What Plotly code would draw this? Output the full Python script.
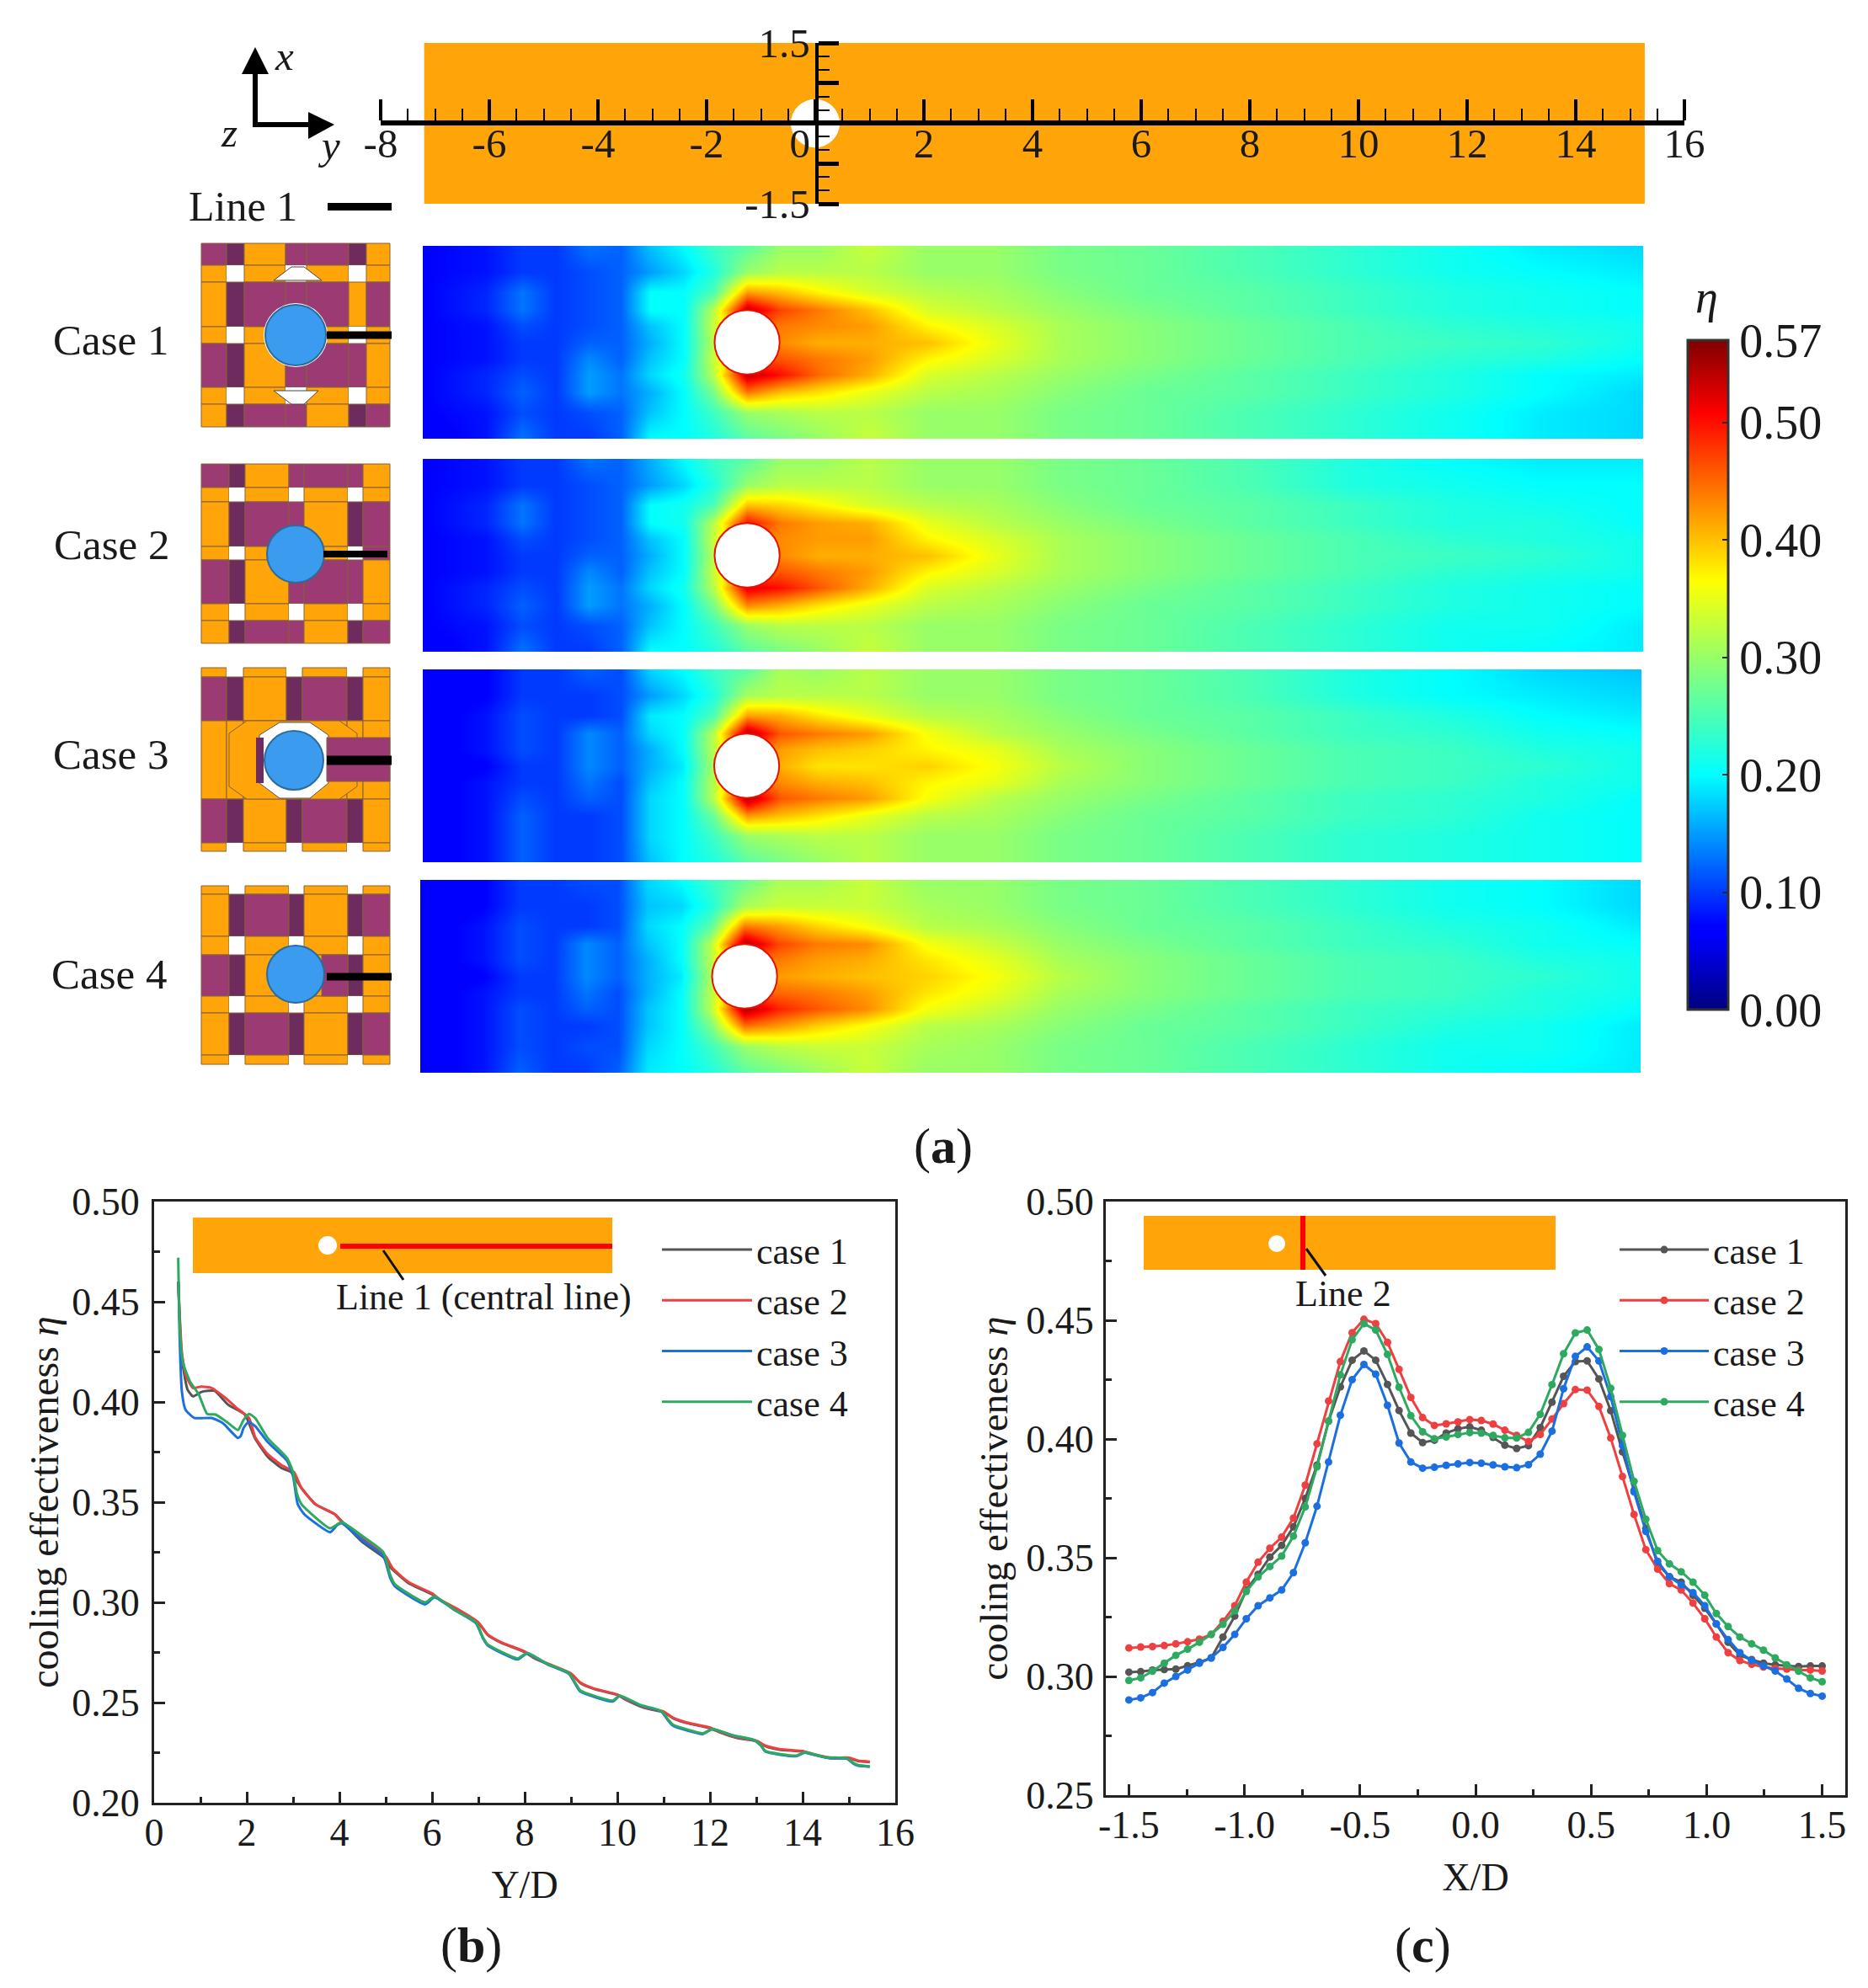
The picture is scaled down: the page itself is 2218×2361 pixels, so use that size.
import plotly.graph_objects as go

W, H = 2218, 2361
SERIF = "Liberation Serif"
INK = "#1a1a1a"
COL = {"case 1": "#555555", "case 2": "#EE4040", "case 3": "#1B6FE0", "case 4": "#2EAA60"}

# ---------- panel (b): central line ----------
b_x_1 = [.52,.6,.72,.84,1.02,1.3,1.6,1.96,2.18,2.45,2.75,2.96,3.15,3.48,3.9,4.05,4.5,4.95,5.12,5.5,6,6.2,6.6,7,7.2,7.5,8,8.2,8.6,9,9.2,9.5,10,10.2,10.6,11,11.2,11.5,12,12.2,12.6,13,13.2,13.5,14,14.2,14.6,15,15.2,15.45]
b_y_1 = [.46,.4217,.4063,.4028,.405,.4056,.3986,.3937,.3818,.3727,.367,.365,.358,.349,.344,.3405,.33,.3225,.317,.3095,.304,.3008,.2958,.2898,.2838,.2798,.2752,.2722,.2682,.2642,.2598,.2568,.2538,.2512,.2472,.2452,.2422,.2398,.2372,.2352,.2322,.2308,.2282,.2265,.2255,.2242,.2222,.2222,.2208,.2203]
b_x_2 = [.52,.6,.69,.84,1.02,1.24,1.54,1.78,2.05,2.18,2.45,2.75,3.02,3.18,3.48,3.9,4.05,4.5,5,5.15,5.5,6,6.2,6.6,7,7.2,7.5,8,8.2,8.6,9,9.2,9.5,10,10.2,10.6,11,11.2,11.5,12,12.2,12.6,13,13.2,13.5,14,14.2,14.6,15,15.2,15.45]
b_y_2 = [.46,.4245,.413,.407,.4077,.407,.402,.397,.392,.3825,.374,.3685,.365,.357,.349,.344,.34,.332,.323,.317,.31,.3045,.301,.296,.29,.284,.28,.2755,.2725,.2685,.2645,.26,.257,.254,.2515,.2475,.2455,.2425,.24,.2375,.2355,.2325,.231,.2285,.2268,.2258,.2245,.2225,.2225,.221,.2205]
b_x_3 = [.527,.55,.6,.68,.87,1.24,1.48,1.81,1.87,1.93,2.04,2.18,2.45,2.87,3,3.1,3.24,3.8,3.95,4.05,4.5,4.95,5.1,5.2,5.85,6.05,6.5,6.95,7.1,7.2,7.85,8.05,8.5,8.95,9.1,9.2,9.9,10.05,10.5,10.95,11.1,11.2,11.85,12.05,12.5,12.95,13.1,13.2,13.85,14.05,14.5,14.95,15.1,15.2,15.45]
b_y_3 = [.46,.433,.405,.396,.392,.392,.3895,.382,.383,.387,.39,.388,.38,.3706,.363,.349,.344,.335,.3385,.3395,.331,.323,.312,.308,.299,.3025,.296,.2895,.282,.2785,.2715,.2745,.269,.2645,.259,.2555,.2505,.2532,.2485,.2455,.241,.2385,.2343,.2368,.2335,.2312,.2285,.2255,.2232,.225,.2225,.222,.2195,.2185,.218]
b_x_4 = [.52,.54,.57,.63,.78,.96,1.145,1.33,1.57,1.81,1.93,2.05,2.18,2.45,2.87,3,3.08,3.18,3.8,4.05,4.5,4.95,5.1,5.2,5.85,6.05,6.5,6.95,7.1,7.2,7.85,8.05,8.5,8.95,9.1,9.2,9.9,10.05,10.5,10.95,11.1,11.2,11.85,12.05,12.5,12.95,13.1,13.2,13.85,14.05,14.5,14.95,15.1,15.2,15.45]
b_y_4 = [.472,.447,.43,.419,.41,.404,.394,.3937,.39,.386,.391,.394,.392,.382,.372,.365,.3545,.349,.337,.34,.333,.325,.3135,.309,.3,.303,.296,.29,.2825,.279,.272,.2748,.2692,.2648,.2595,.256,.251,.2535,.2488,.2458,.2415,.239,.2347,.2368,.2336,.2314,.2288,.2258,.2235,.2252,.2227,.2222,.2198,.2188,.2182]

# ---------- panel (c): line 2 ----------
c_x = [-1.5,-1.449,-1.398,-1.347,-1.297,-1.246,-1.195,-1.144,-1.093,-1.042,-.992,-.941,-.89,-.839,-.788,-.737,-.686,-.636,-.585,-.534,-.483,-.432,-.381,-.331,-.28,-.229,-.178,-.127,-.076,-.025,.025,.076,.127,.178,.229,.28,.331,.381,.432,.483,.534,.585,.636,.686,.737,.788,.839,.89,.941,.992,1.042,1.093,1.144,1.195,1.246,1.297,1.347,1.398,1.449,1.5]
c_y_1 = [.3018,.302,.3027,.3029,.3031,.3045,.306,.3078,.3166,.3254,.3364,.343,.3503,.3552,.363,.375,.389,.4075,.422,.4332,.4371,.4332,.423,.412,.4025,.3985,.3995,.4025,.4043,.4051,.4037,.4007,.3974,.396,.3972,.4048,.4155,.4264,.4326,.4329,.4253,.4119,.3946,.3783,.3623,.3474,.342,.3397,.3342,.3287,.3221,.3144,.3089,.3071,.3056,.3049,.3045,.3042,.3044,.3044]
c_y_2 = [.312,.3124,.3126,.313,.3137,.3146,.3157,.3177,.3232,.3298,.3397,.3481,.354,.3587,.3667,.3806,.398,.416,.4326,.4448,.4504,.4486,.4407,.4293,.4175,.409,.4057,.4064,.4072,.4082,.4078,.4063,.4037,.4015,.3989,.4019,.4084,.4149,.4208,.4206,.4137,.4004,.3842,.3682,.3534,.3452,.3391,.3364,.3309,.3243,.3166,.31,.3067,.3051,.304,.3034,.3031,.3027,.3027,.3023]
c_y_3 = [.2901,.291,.2932,.2972,.3,.3027,.3056,.3078,.3122,.3177,.3243,.3298,.3331,.3364,.3437,.3563,.3717,.3903,.41,.425,.4314,.4273,.4142,.3983,.3903,.3877,.3881,.3889,.3895,.3901,.3898,.3891,.3883,.3879,.3892,.3936,.4033,.4212,.4348,.4388,.4329,.4178,.3972,.3777,.3611,.3485,.342,.3386,.3353,.3298,.3221,.3155,.31,.3067,.3045,.3023,.2989,.295,.2928,.2917]
c_y_4 = [.2983,.2994,.3022,.3056,.3089,.3115,.3144,.3177,.322,.3276,.3358,.3419,.3463,.3507,.3591,.3714,.3883,.4075,.427,.4418,.4486,.4459,.4356,.4218,.4098,.403,.4001,.4009,.4019,.4027,.4025,.4015,.4005,.4004,.4028,.4104,.4229,.4359,.4447,.4459,.4377,.4214,.4015,.3822,.3662,.353,.3474,.3441,.3397,.3342,.3265,.321,.3166,.3137,.3111,.3078,.3049,.3022,.2994,.2978]
c_tick_vals = [-1.5,-1,-.5,0,.5,1,1.5]
c_tick_text = ["-1.5","-1.0","-0.5","0.0","0.5","1.0","1.5"]

# ---------- panel (a): contour maps, eta x 100 ----------
map_y = [-7.2,-6.04,-5.37,-4.75,-4.14,-3.55,-3,-2.39,-1.84,-1.22,-.6,.1,1.03,2.12,3.36,4.6,6.15,8.02,9.88,11.74,13.45,15.3]
map_x = [1.5,1.1,.78,.5,.25,0,-.25,-.5,-.78,-1.1,-1.5]
map_case_1 = [
 [7,8,10,10,13,12,17,20,24,26,30,30,33,30,30,28,27,25,23,21,19,18],
 [7,8,10,10,11,12,15,18,22,30,32,32,32,30,30,28,27,25,23,21,20,19],
 [7,9,13,10,11,12,20,20,25,42,40,37,34,32,31,29,27,26,24,22,21,20],
 [7,9,13,10,11,12,20,20,32,54,47,44,40,34,32,30,28,26,24,22,21,20],
 [7,8,11,10,11,12,17,20,33,45,44,43,42,37,34,31,29,27,25,23,22,21],
 [7,8,10,10,12,12,16,20,32,40,43,41,41,40,35,31,29,27,25,24,23,21],
 [7,8,10,10,14,12,17,20,33,45,46,44,42,37,34,31,29,27,25,23,22,20],
 [7,9,11,10,15,13,18,21,32,54,50,45,41,34,32,30,28,26,24,22,20,19],
 [7,9,12,10,15,13,16,20,28,44,40,38,35,32,31,29,27,26,24,22,20,18],
 [7,8,11,10,11,12,17,20,24,30,31,32,32,30,30,28,27,25,23,21,19,18],
 [6,8,13,10,10,12,20,20,22,26,28,30,33,30,30,28,27,25,23,21,19,18]]
map_case_2 = [
 [7,8,10,10,13,12,16,20,24,26,30,30,32,30,30,28,27,25,22,20,19,19],
 [7,8,10,10,11,12,15,18,22,30,32,32,32,30,30,28,27,25,22,21,20,20],
 [7,9,13,10,11,12,20,21,25,40,39,37,34,32,31,29,27,26,24,22,21,20],
 [7,9,13,10,11,12,20,21,32,50,44,42,41,35,32,30,28,26,24,22,22,20],
 [7,8,11,10,11,12,17,20,33,44,43,42,42,37,34,31,29,27,25,23,22,21],
 [7,8,10,10,12,12,16,20,32,40,43,41,41,40,35,31,29,27,25,24,23,21],
 [7,8,10,10,14,12,17,20,33,45,46,44,42,37,34,31,29,27,25,23,22,21],
 [7,9,11,10,15,13,18,21,32,52,50,46,41,34,32,30,28,26,24,22,21,20],
 [7,9,12,10,15,13,16,20,28,43,41,38,35,32,31,29,27,26,24,22,21,20],
 [7,8,11,10,11,12,17,20,24,30,32,32,32,30,30,28,27,25,23,21,21,19],
 [6,8,13,10,10,12,20,20,22,26,28,30,33,30,30,28,27,25,23,21,20,19]]
map_case_3 = [
 [6,7,10,10,12,11,18,20,24,26,31,30,32,30,30,28,27,25,22,20,18,17],
 [6,7,10,10,10,11,15,18,22,31,32,32,32,30,30,28,27,25,22,20,19,18],
 [6,8,11,10,10,11,19,20,25,42,41,38,35,32,31,29,27,26,24,22,20,19],
 [6,8,11,10,14,12,18,20,32,55,46,44,42,36,32,30,28,26,24,23,21,20],
 [6,8,11,10,14,12,16,20,32,45,42,40,39,37,35,31,29,27,25,24,22,21],
 [6,7,10,10,14,12,16,19,31,40,41,38,38,39,36,32,29,27,25,24,23,21],
 [6,8,10,10,13,11,17,20,32,45,43,41,40,37,35,31,29,27,25,24,22,21],
 [6,8,11,10,12,11,18,20,32,55,46,44,42,36,32,30,28,26,24,23,22,20],
 [6,8,12,10,10,11,18,20,27,42,40,38,35,32,31,29,27,26,24,23,21,20],
 [6,8,12,10,10,11,18,20,24,30,31,32,32,30,30,28,27,25,23,22,21,20],
 [6,8,12,10,10,11,17,20,22,26,28,30,32,30,30,28,27,25,23,22,21,20]]
map_case_4 = [
 [6,7,10,10,11,11,18,20,24,27,31,31,33,30,30,28,27,25,23,21,20,18],
 [6,7,10,10,10,11,17,18,22,31,33,33,33,31,30,28,27,25,23,21,20,18],
 [6,8,11,10,10,11,18,20,26,44,42,39,36,32,31,29,27,26,24,22,21,19],
 [6,8,11,10,14,12,17,20,32,55,47,44,43,36,33,30,28,26,24,23,21,20],
 [6,8,11,10,14,12,16,20,32,45,44,42,41,38,35,31,29,27,25,24,22,21],
 [6,7,10,10,14,12,16,19,31,40,42,41,40,39,36,32,29,27,25,24,23,21],
 [6,8,10,10,13,11,16,20,32,45,45,44,42,38,35,31,29,27,25,24,22,21],
 [6,8,11,10,12,11,17,20,32,55,49,46,43,36,33,30,28,26,24,23,22,20],
 [6,8,11,10,10,11,17,20,28,44,42,39,36,32,31,29,27,26,24,22,21,19],
 [6,8,11,10,11,11,18,20,24,30,32,33,33,31,30,28,27,25,23,21,21,19],
 [6,8,12,10,10,12,19,20,22,26,28,30,33,30,30,28,27,25,23,21,20,19]]
hole_y, hole_x = -1.22, 0.0
cbar_ticks = [0, .1, .2, .3, .4, .5, .57]
cbar_text = ["0.00", "0.10", "0.20", "0.30", "0.40", "0.50", "0.57"]
case_names = ["Case 1", "Case 2", "Case 3", "Case 4"]

strip_major = [-8,-6,-4,-2,0,2,4,6,8,10,12,14,16]
strip_text = ["-8","-6","-4","-2","0\u00a0\u00a0\u00a0","2","4","6","8","10","12","14","16"]
strip_minor = [-7.5,-7,-6.5,-5.5,-5,-4.5,-3.5,-3,-2.5,-1.5,-1,-.5,.5,1,1.5,2.5,3,3.5,4.5,5,5.5,6.5,7,7.5,8.5,9,9.5,10.5,11,11.5,12.5,13,13.5,14.5,15,15.5]

# ---------- helpers ----------
def dx(a, b): return [a / W, b / W]
def dy(a, b): return [1 - b / H, 1 - a / H]
def px(x): return x / W
def py(y): return 1 - y / H

shapes, notes = [], []
def rect(x0, y0, x1, y1, color, line=None, lw=1):
    shapes.append(dict(type="rect", xref="paper", yref="paper", x0=px(x0), x1=px(x1), y0=py(y0), y1=py(y1),
                       fillcolor=color, line=dict(color=line or color, width=lw if line else 0)))
def poly(pts, color, line=None, lw=1):
    d = "M " + " L ".join(f"{px(a):.5f},{py(b):.5f}" for a, b in pts) + " Z"
    shapes.append(dict(type="path", xref="paper", yref="paper", path=d, fillcolor=color,
                       line=dict(color=line or color, width=lw if line else 0)))
def seg(x0, y0, x1, y1, color, lw):
    shapes.append(dict(type="line", xref="paper", yref="paper", x0=px(x0), x1=px(x1), y0=py(y0), y1=py(y1),
                       line=dict(color=color, width=lw)))
def disc(cx, cy, rx, ry, color, line=None, lw=2):
    shapes.append(dict(type="circle", xref="paper", yref="paper", x0=px(cx - rx), x1=px(cx + rx),
                       y0=py(cy + ry), y1=py(cy - ry), fillcolor=color,
                       line=dict(color=line or color, width=lw if line else 0)))
def txt(x, y, s, size, anchor="center"):
    notes.append(dict(x=px(x), y=py(y), xref="paper", yref="paper", text=s, showarrow=False, xanchor=anchor,
                      yanchor="middle", font=dict(family=SERIF, size=size, color=INK)))

ORANGE, PURPLE, DARK = "#FFA50A", "#9C3A74", "#6E2C5E"
PAL = {"o": ORANGE, "p": PURPLE, "d": DARK, "w": "#FFFFFF"}
EDGE = "#85603A"
def weave(xs, ys, grid):
    for j, row in enumerate(grid):
        for i, c in enumerate(row):
            rect(xs[i], ys[j], xs[i + 1], ys[j + 1], PAL[c], None if c == "w" else EDGE, 1)

# ---------- insets (schematics) ----------
weave([239,269,290,339,364,414,435,463], [289,315,335,388,408,460,480,507],
      ["pdoppdo","owowowo","odpppop","owooowo","pdopppo","owowowo","odppodp"])
poly([(325,333),(346,317),(361,317),(382,333)], "#FFFFFF", "#444444", 1)
poly([(325,464),(378,464),(361,480),(346,480)], "#FFFFFF", "#444444", 1)
disc(351, 398, 38, 38, "#FFFFFF")
weave([239,272,291,343,361,413,431,463], [551,579,596,649,665,717,737,764],
      ["pdopppo","owowowo","odppodp","owowowp","pdopppo","owowowo","odppodp"])
weave([239,269,289,340,359,412,431,463], [793,804,856,949,1001,1011],
      ["owowowo","pdodpdo","ooooooo","pdodpdo","owowowo"])
poly([(293,856),(403,856),(424,871),(424,934),(403,949),(293,949),(272,934),(272,871)], ORANGE, EDGE, 1)
poly([(332,858),(368,858),(390,873),(390,930),(368,948),(332,948),(308,930),(308,873)], "#FFFFFF", "#555555", 1)
rect(304,876,313,930,DARK)
rect(388,876,463,928,PURPLE,EDGE,1)
weave([239,272,291,343,361,413,431,463], [1052,1062,1112,1134,1183,1203,1253,1264],
      ["owowowo","odpdodp","owowowo","pdooodo","owowowo","odpdodp","owowowo"])
rect(382,1134,413,1183,PURPLE,EDGE,1)
for cx, cy, r in [(351,398,36), (351,658,34), (349,903,35), (351,1157,34)]:
    disc(cx, cy, r, r, "#3A9BEF", "#2A6C9C", 2)
for x0, x1, y, t in [(388,465,398,9), (384,460,658,8), (388,465,903,11), (388,465,1160,9), (389,465,245.5,9)]:
    seg(x0, y, x1, y, "#000000", t)

# triad
seg(303, 148, 303, 85, "#000000", 6)
seg(300, 148, 372, 148, "#000000", 6)
poly([(303,56),(287,88),(319,88)], "#000000")
poly([(397,148),(366,133),(366,165)], "#000000")
txt(337, 67, "<i>x</i>", 49); txt(272, 157, "<i>z</i>", 49); txt(390, 172, "<i>y</i>", 49)

# case labels
txt(131, 404, "Case 1", 51); txt(132, 647, "Case 2", 51); txt(131, 896, "Case 3", 51); txt(129, 1157, "Case 4", 51)
txt(288, 245, "Line 1", 50)

# insets of (b) and (c)
rect(229,1446,727,1512,ORANGE)
disc(389,1479,11,11,"#FFFFFF")
seg(404,1480,727,1480,"#FF0000",6)
seg(455,1485,479,1520,"#111111",3)
txt(574,1540,"Line 1 (central line)",44)
rect(1358,1444,1847,1508,ORANGE)
disc(1516,1477,10,10,"#FFFFFF")
seg(1547,1444,1547,1508,"#FF0000",6)
seg(1551,1483,1574,1515,"#111111",3)
txt(1595,1536,"Line 2",44)

# panel letters and colour bar title
txt(1120,1361,"(<b>a</b>)",60); txt(559,2310,"(<b>b</b>)",60); txt(1689,2310,"(<b>c</b>)",60)
txt(2026,353,"<i>η</i>",54)

JET = [[0,"#00007F"],[.11,"#0000FF"],[.125,"#0000FF"],[.35,"#00FFFF"],[.5,"#80FF80"],[.64,"#FFFF00"],[.89,"#FF0000"],[1,"#7F0000"]]

fig = go.Figure()

# panel (b)
for name, xs, ys in [("case 1", b_x_1, b_y_1), ("case 2", b_x_2, b_y_2), ("case 3", b_x_3, b_y_3), ("case 4", b_x_4, b_y_4)]:
    fig.add_trace(go.Scatter(x=xs, y=ys, name=name, mode="lines", legend="legend",
                             line=dict(color=COL[name], width=3, shape="spline", smoothing=.5)))
# panel (c)
for name, ys in [("case 1", c_y_1), ("case 2", c_y_2), ("case 3", c_y_3), ("case 4", c_y_4)]:
    fig.add_trace(go.Scatter(x=c_x, y=ys, name=name, mode="lines+markers", xaxis="x2", yaxis="y2", legend="legend2",
                             line=dict(color=COL[name], width=3), marker=dict(color=COL[name], size=9)))

# contour maps
boxes = [(502,1951,292,521),(502,1951,545,774),(502,1949,795,1024),(499,1948,1045,1274)]
tables = [map_case_1, map_case_2, map_case_3, map_case_4]
for i, (tab, box) in enumerate(zip(tables, boxes)):
    k = i + 3
    z = [[v / 100 for v in row] for row in tab]
    fig.add_trace(go.Heatmap(x=map_y, y=map_x, z=z, zsmooth="best", coloraxis="coloraxis",
                             xaxis=f"x{k}", yaxis=f"y{k}", name=case_names[i]))
    fig.update_layout({f"xaxis{k}": dict(domain=dx(box[0], box[1]), range=[-7.2, 15.3], visible=False, anchor=f"y{k}"),
                       f"yaxis{k}": dict(domain=dy(box[2], box[3]), range=[-1.5, 1.5], visible=False, anchor=f"x{k}")})
    shapes.append(dict(type="circle", xref=f"x{k}", yref=f"y{k}", x0=hole_y - .6, x1=hole_y + .6,
                       y0=hole_x - .5, y1=hole_x + .5, fillcolor="#FFFFFF", line=dict(color="#E81000", width=2)))

# top strip axes
fig.add_trace(go.Scatter(x=[], y=[], xaxis="x7", yaxis="y7", showlegend=False))
shapes.append(dict(type="rect", xref="x7", yref="y7", x0=-7.2, x1=15.27, y0=-1.5, y1=1.5, fillcolor=ORANGE,
                   line=dict(width=0), layer="below"))
shapes.append(dict(type="circle", xref="x7", yref="y7", x0=-.45, x1=.45, y0=-.45, y1=.45, fillcolor="#FFFFFF",
                   line=dict(width=0), layer="below"))

tick_font = dict(family=SERIF, size=46, color=INK)
def frame(**kw):
    return dict(showline=True, mirror=True, linecolor="#222222", linewidth=3, ticks="inside", ticklen=13, tickwidth=3,
                tickcolor="#222222", showgrid=False, zeroline=False, tickfont=tick_font, **kw)
minor = lambda d: dict(dtick=d, ticks="inside", ticklen=7, tickwidth=3, tickcolor="#222222", showgrid=False)

fig.update_layout(
    width=W, height=H, margin=dict(l=0, r=0, t=0, b=0, pad=0, autoexpand=False), paper_bgcolor="white", plot_bgcolor="white",
    font=dict(family=SERIF, color=INK), showlegend=True, shapes=shapes, annotations=notes,
    xaxis=frame(domain=dx(183,1063), range=[0,16], dtick=2, tick0=0, minor=minor(1), anchor="y", ticklabelstandoff=-7,
                title=dict(text="Y/D", font=dict(family=SERIF, size=46, color=INK), standoff=21)),
    yaxis=frame(domain=dy(1427,2141), range=[.2,.5], dtick=.05, tick0=.2, tickformat=".2f", minor=minor(.025), anchor="x", ticklabelstandoff=5,
                title=dict(text="cooling effectiveness <i>η</i>", font=dict(family=SERIF, size=48, color=INK), standoff=1)),
    xaxis2=frame(domain=dx(1313,2191), range=[-1.6,1.6], tickmode="array", tickvals=c_tick_vals, ticktext=c_tick_text, ticklabelstandoff=-7,
                 minor=dict(tickmode="array", tickvals=[-1.25,-.75,-.25,.25,.75,1.25], ticks="inside", ticklen=7, tickwidth=3, tickcolor="#222222", showgrid=False), anchor="y2",
                 title=dict(text="X/D", font=dict(family=SERIF, size=46, color=INK), standoff=21)),
    yaxis2=frame(domain=dy(1427,2132), range=[.25,.5], dtick=.05, tick0=.25, tickformat=".2f", minor=minor(.025), anchor="x2", ticklabelstandoff=2,
                 title=dict(text="cooling effectiveness <i>η</i>", font=dict(family=SERIF, size=47, color=INK), standoff=7)),
    xaxis7=dict(domain=dx(452,2000), range=[-8,16], anchor="free", position=py(146), side="top", showline=True,
                linecolor="#000000", linewidth=6, showgrid=False, zeroline=False, ticks="outside", ticklen=25, tickwidth=4,
                tickcolor="#000000", tickmode="array", tickvals=strip_major, ticktext=strip_text, ticklabelstandoff=11,
                ticklabelposition="inside", ticklabeloverflow="allow", tickfont=dict(family=SERIF, size=49, color=INK),
                minor=dict(tickmode="array", tickvals=strip_minor, ticks="outside", ticklen=14, tickwidth=2, tickcolor="#000000", showgrid=False)),
    yaxis7=dict(domain=dy(51,242), range=[-1.5,1.5], anchor="free", position=px(970), side="right", showline=True,
                linecolor="#000000", linewidth=4, showgrid=False, zeroline=False, ticks="outside", ticklen=24, tickwidth=5,
                tickcolor="#000000", tickmode="array", tickvals=[-1.5,-.75,.75,1.5], ticktext=["-1.5","","","1.5"], ticklabelstandoff=13,
                ticklabelposition="inside", ticklabeloverflow="allow", tickfont=dict(family=SERIF, size=49, color=INK),
                minor=dict(tickmode="array", tickvals=[-1.25,-1,-.5,-.25,.25,.5,1,1.25], ticks="outside", ticklen=13, tickwidth=2, tickcolor="#000000", showgrid=False)),
    coloraxis=dict(cmin=0, cmax=.57, colorscale=JET, colorbar=dict(
        x=px(2004), xanchor="left", xpad=0, y=py(1199), yanchor="bottom", ypad=0, len=795 / H, lenmode="fraction",
        thickness=48, thicknessmode="pixels", outlinecolor="#333333", outlinewidth=3, ticks="inside", ticklen=8,
        tickwidth=2, tickcolor="#222222", tickmode="array", tickvals=cbar_ticks, ticktext=cbar_text,
        tickfont=dict(family=SERIF, size=56, color=INK))),
    legend=dict(x=px(781), y=py(1449), xanchor="left", yanchor="top", itemwidth=107, bgcolor="rgba(0,0,0,0)",
                font=dict(family=SERIF, size=44, color=INK), tracegroupgap=0),
    legend2=dict(x=px(1918), y=py(1449), xanchor="left", yanchor="top", itemwidth=106, bgcolor="rgba(0,0,0,0)",
                 font=dict(family=SERIF, size=44, color=INK), tracegroupgap=0),
)
fig.write_html("out.html", config={"displayModeBar": False}, post_script="document.body.style.margin='0';")
